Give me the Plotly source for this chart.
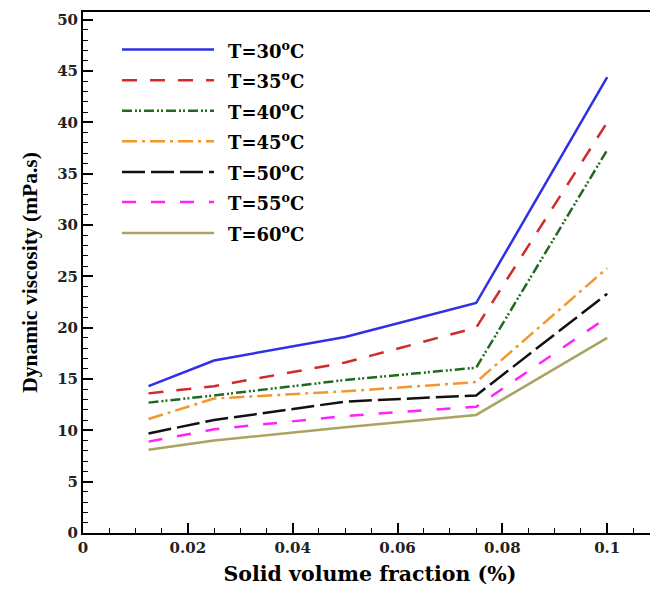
import plotly.graph_objects as go

# ---- data ----
phi = [0.0125, 0.025, 0.05, 0.075, 0.1]
series_names = ["T=30<sup>o</sup>C", "T=35<sup>o</sup>C", "T=40<sup>o</sup>C", "T=45<sup>o</sup>C",
                "T=50<sup>o</sup>C", "T=55<sup>o</sup>C", "T=60<sup>o</sup>C"]
visc_30 = [14.3, 16.8, 19.1, 22.4, 44.4]
visc_35 = [13.6, 14.3, 16.6, 20.0, 40.0]
visc_40 = [12.7, 13.4, 14.9, 16.1, 37.3]
visc_45 = [11.1, 13.1, 13.8, 14.7, 25.8]
visc_50 = [9.7, 11.0, 12.8, 13.4, 23.3]
visc_55 = [8.9, 10.1, 11.4, 12.3, 21.0]
visc_60 = [8.1, 9.0, 10.3, 11.5, 19.0]
all_visc = [visc_30, visc_35, visc_40, visc_45, visc_50, visc_55, visc_60]

x_ticks = [0, 0.02, 0.04, 0.06, 0.08, 0.1]
x_ticklabels = ["0", "0.02", "0.04", "0.06", "0.08", "0.1"]
y_ticks = [0, 5, 10, 15, 20, 25, 30, 35, 40, 45, 50]

# ---- styles ----
colors = ["#2f2fe8", "#d02a2a", "#1f6a1f", "#f5962c", "#111111", "#ff22ff", "#aaa460"]
dashes = ["solid", "15px,13px", "10px,3px,2px,2px,2px,3px", "15px,5px,3px,5px",
          "23px,6px", "14px,15px", "solid"]
lw = 2.5

# page has an 8px body margin, so the figure is drawn 8px smaller and offset
OFF = 8
W, H = 658 - OFF, 589 - OFF

fig = go.Figure()
for name, vals, c, d in zip(series_names, all_visc, colors, dashes):
    fig.add_trace(go.Scatter(x=phi, y=vals, mode="lines", name=name,
                             line=dict(color=c, dash=d, width=lw), showlegend=False))

# manual legend with long line samples (positions in page pixels)
plot_top, plot_bot = 11.7, 533.3
plot_left, plot_right = 83.0, 657.0
leg_y_px = [49.3, 80.0, 110.5, 141.0, 172.0, 202.0, 233.0]
def px2py(y):
    return (plot_bot - y) / (plot_bot - plot_top)
def px2px(x):
    return (x - plot_left) / (plot_right - plot_left)

for name, c, d, ypx in zip(series_names, colors, dashes, leg_y_px):
    yy = px2py(ypx)
    fig.add_shape(type="line", xref="paper", yref="paper",
                  x0=px2px(122), x1=px2px(214), y0=yy, y1=yy,
                  line=dict(color=c, dash=d, width=lw))
    fig.add_annotation(xref="paper", yref="paper", x=px2px(226), y=yy,
                       text=name, showarrow=False, xanchor="left", yanchor="middle",
                       font=dict(family="DejaVu Serif", size=18, color="black", weight="bold"))

axis_font = dict(family="DejaVu Serif", size=15, color="#222", weight="bold")

fig.update_xaxes(range=[0, 0.1095], tickvals=x_ticks, ticktext=x_ticklabels,
                 ticks="inside", ticklen=10, tickwidth=2, tickcolor="black",
                 minor=dict(dtick=0.005, tick0=0, ticks="inside", ticklen=5, tickwidth=1, tickcolor="black"),
                 showline=True, linewidth=2, linecolor="black", mirror=True,
                 showgrid=False, zeroline=False, tickfont=axis_font, automargin=False,
                 title=dict(text="Solid volume fraction (%)", standoff=11,
                            font=dict(family="DejaVu Serif", size=20.5, color="black", weight="bold")))
fig.update_yaxes(range=[0, 50.75], tickvals=y_ticks,
                 ticks="inside", ticklen=10, tickwidth=2, tickcolor="black",
                 minor=dict(dtick=1, tick0=0, ticks="inside", ticklen=5, tickwidth=1, tickcolor="black"),
                 showline=True, linewidth=2, linecolor="black", mirror=True,
                 showgrid=False, zeroline=False, tickfont=axis_font, automargin=False,
                 title=dict(text="Dynamic viscosity (mPa.s)", standoff=14,
                            font=dict(family="Liberation Serif", size=21.5, color="black", weight="bold")))

fig.update_layout(width=W, height=H, plot_bgcolor="white", paper_bgcolor="white",
                  margin=dict(l=plot_left - OFF, r=W + OFF - plot_right,
                              t=plot_top - OFF, b=H + OFF - plot_bot),
                  showlegend=False)

fig.write_html("out.html")
